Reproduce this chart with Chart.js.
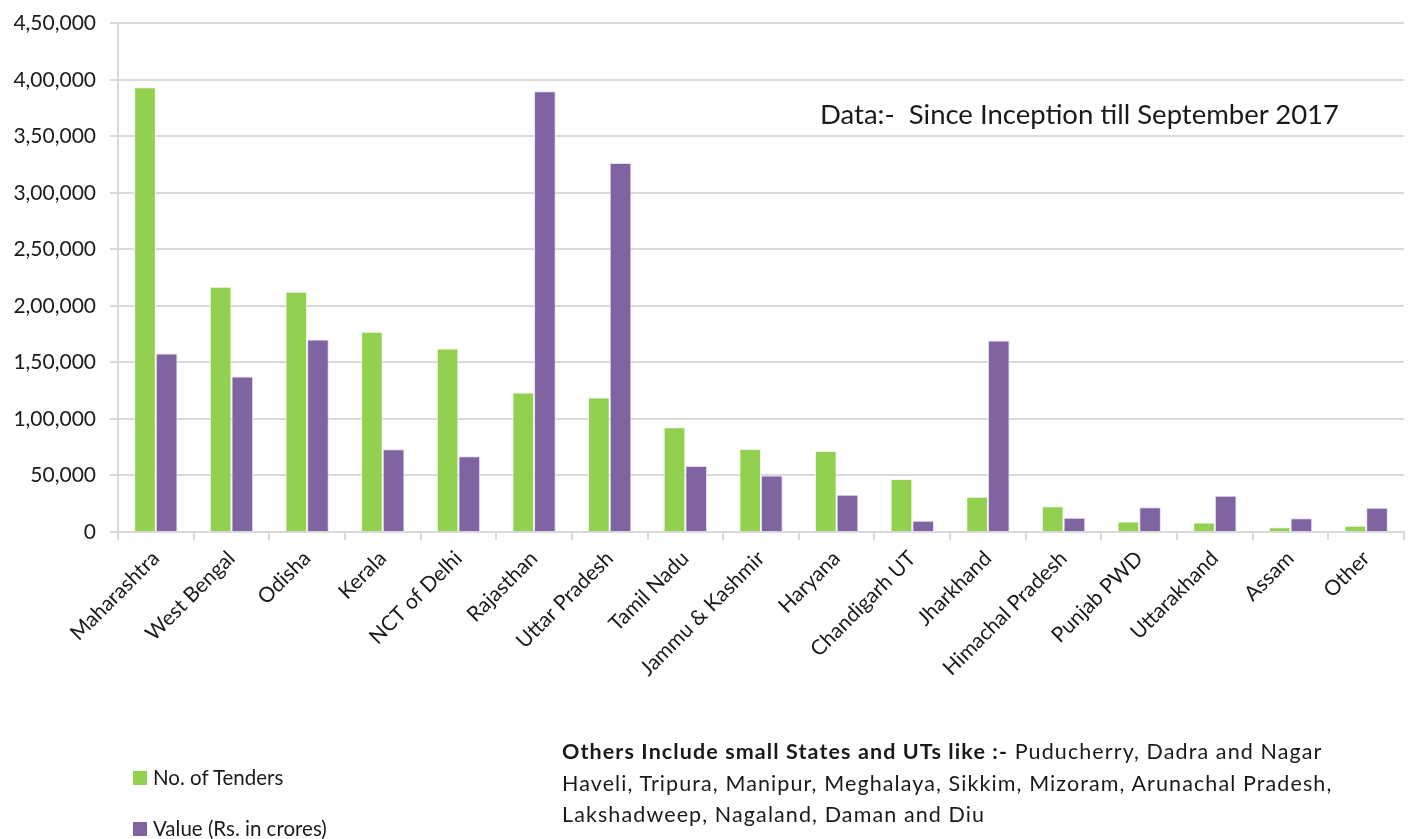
<!DOCTYPE html>
<html lang="en">
<head>
    <meta charset="UTF-8">
    <title>Tenders by State</title>
    <script src="https://cdn.jsdelivr.net/npm/chart.js"></script>
    <style>
        html, body { margin: 0; padding: 0; background: #fff; }
        .wrap { position: relative; width: 1412px; height: 839px; overflow: hidden; font-family: Lato, "Open Sans", sans-serif; color: #1a1a1a; }
        canvas { position: absolute; left: 0; top: 0; }
        .note { position: absolute; left: 820px; top: 97px; font-size: 27.5px; white-space: nowrap; }
        .legend { position: absolute; left: 133px; font-size: 20.5px; line-height: 24px; white-space: nowrap; }
        .legend i { display: inline-block; width: 14px; height: 14px; margin-right: 6px; vertical-align: 0px; }
        .foot { position: absolute; left: 562px; top: 736px; font-size: 21.5px; letter-spacing: 1.1px; line-height: 31.5px; white-space: nowrap; }
    </style>
</head>
<body>
    <div class="wrap">
        <canvas id="chart" width="1412" height="839"></canvas>
        <div class="note">Data:-&nbsp; Since Inception till September 2017</div>
        <div class="legend" style="top:765px"><i style="background:#92D050"></i>No. of Tenders</div>
        <div class="legend" style="top:816px"><i style="background:#8064A2"></i>Value (Rs. in crores)</div>
        <div class="foot"><b>Others Include small States and UTs like :-</b> Puducherry, Dadra and Nagar<br>Haveli, Tripura, Manipur, Meghalaya, Sikkim, Mizoram, Arunachal Pradesh,<br>Lakshadweep, Nagaland, Daman and Diu</div>
    </div>

    <script>
        // Values
        const states = ['Maharashtra', 'West Bengal', 'Odisha', 'Kerala', 'NCT of Delhi', 'Rajasthan',
            'Uttar Pradesh', 'Tamil Nadu', 'Jammu & Kashmir', 'Haryana', 'Chandigarh UT', 'Jharkhand',
            'Himachal Pradesh', 'Punjab PWD', 'Uttarakhand', 'Assam', 'Other'];
        const tenders = [393500, 217000, 212700, 177300, 162300, 123500, 119100, 92600, 73500,
            71700, 46800, 31200, 22700, 9400, 8300, 4100, 5600];
        const values = [158000, 137700, 170300, 73300, 67100, 390000, 326500, 58300, 50000,
            32900, 10000, 169400, 12700, 22000, 32100, 12100, 21500];
        const yTicks = [0, 50000, 100000, 150000, 200000, 250000, 300000, 350000, 400000, 450000];

        // Indian digit grouping: 4,50,000
        function indianFormat(v) {
            const s = String(Math.round(v));
            if (s.length <= 3) return s;
            const last3 = s.slice(-3);
            const rest = s.slice(0, -3).replace(/\B(?=(\d{2})+(?!\d))/g, ',');
            return rest + ',' + last3;
        }

        const gridColor = '#d9d9d9';
        const font = { family: 'Lato', size: 21 };

        new Chart(document.getElementById('chart'), {
            type: 'bar',
            data: {
                labels: states,
                datasets: [{
                    label: 'No. of Tenders',
                    data: tenders,
                    backgroundColor: '#92D050',
                    borderColor: '#f2f9ea',
                    borderWidth: 1
                }, {
                    label: 'Value (Rs. in crores)',
                    data: values,
                    backgroundColor: '#8064A2',
                    borderColor: '#e4dcee',
                    borderWidth: 1
                }]
            },
            options: {
                responsive: false,
                animation: false,
                categoryPercentage: 0.573,
                barPercentage: 1,
                layout: { padding: { top: 22, right: 8, bottom: 107, left: 0 } },
                plugins: {
                    legend: { display: false },
                    tooltip: { enabled: false }
                },
                scales: {
                    x: {
                        grid: { drawOnChartArea: false, drawTicks: true, tickLength: 8, color: gridColor, lineWidth: 2 },
                        border: { color: gridColor, width: 2 },
                        ticks: { autoSkip: false, maxRotation: 45, minRotation: 45, color: '#1a1a1a', font: font, padding: 6 },
                        afterFit: function (scale) { scale.height = 200; }
                    },
                    y: {
                        min: 0,
                        max: 450000,
                        afterBuildTicks: function (scale) { scale.ticks = yTicks.map(v => ({ value: v })); },
                        grid: { color: gridColor, lineWidth: 2, tickLength: 8 },
                        border: { color: gridColor, width: 2 },
                        ticks: { color: '#1a1a1a', font: { family: 'Lato', size: 21, lineHeight: 0.9 }, padding: 14, callback: v => indianFormat(v) },
                        afterFit: function (scale) { scale.width = 118; }
                    }
                }
            }
        });
    </script>
</body>
</html>
